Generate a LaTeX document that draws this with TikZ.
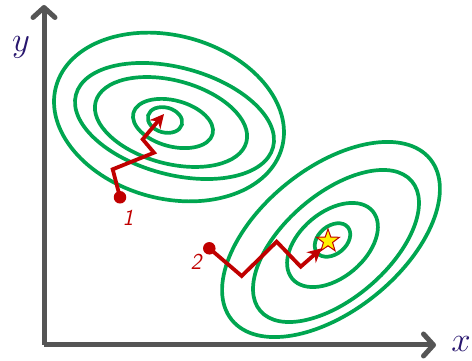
\documentclass[tikz,border=0pt]{standalone}
\usetikzlibrary{arrows.meta,shapes.geometric}
\definecolor{contour}{RGB}{0,166,80}
\definecolor{pathred}{RGB}{192,0,0}
\definecolor{axisgray}{RGB}{85,85,85}
\definecolor{labelblue}{RGB}{40,22,110}
\begin{document}
\begin{tikzpicture}[x=1pt,y=1pt,
  contourline/.style={draw=contour,line width=3.7pt},
  axisline/.style={draw=axisgray,line width=5pt,line join=miter},
  descent/.style={draw=pathred,line width=3.8pt,line join=miter,
     -{Stealth[length=14pt,width=14pt,inset=4.5pt]}},
  startdot/.style={circle,fill=pathred,minimum size=12.5pt,inner sep=0pt},
  runlabel/.style={text=pathred,font=\huge\sffamily\itshape,scale=1.1},
  axislabel/.style={text=labelblue,font=\Huge,scale=1.4},
  goal/.style={star,star points=5,star point ratio=2.5,minimum size=24pt,inner sep=0pt,
     fill=yellow,draw=pathred,line width=1pt}
]
\useasboundingbox (0,0) rectangle (472,361);
% axes
\coordinate (origin) at (44,16);
\coordinate (ytip) at (44,356);
\coordinate (xtip) at (436,16);
\draw[axisline,-{Straight Barb[length=10pt,width=22pt,line cap=round,line join=round]}] (origin) -- (ytip);
\draw[axisline,-{Straight Barb[length=10pt,width=22pt,line cap=round,line join=round]}] (origin) -- (xtip);
\node[axislabel] (ylab) at (21,314) {$y$};
\node[axislabel] (xlab) at (461,17) {$x$};
% top contours
\draw[contourline,rotate around={-15:(169,244)}] (169,244) ellipse [x radius=117,y radius=81.5];
\draw[contourline,rotate around={-15:(174.5,240)}] (174.5,240) ellipse [x radius=102,y radius=53.5];
\draw[contourline,rotate around={-15:(171,239)}] (171,239) ellipse [x radius=78,y radius=41.6];
\draw[contourline,rotate around={-15:(173,237.5)}] (173,237.5) ellipse [x radius=41,y radius=23];
\draw[contourline,rotate around={-15:(165,241)}] (165,241) ellipse [x radius=17.5,y radius=12.5];
% bottom contours
\draw[contourline,rotate around={39:(331,121.5)}] (331,121.5) ellipse [x radius=127.7,y radius=71.2];
\draw[contourline,rotate around={40.6:(336,115)}] (336,115) ellipse [x radius=99.7,y radius=52.2];
\draw[contourline,rotate around={40:(332.5,116)}] (332.5,116) ellipse [x radius=52.5,y radius=32.8];
\draw[contourline,rotate around={40:(332.5,121)}] (332.5,121) ellipse [x radius=20,y radius=14];
% run 1
\node[startdot] (s1) at (120,163.7) {};
\coordinate (a1) at (112.7,191.7);
\coordinate (b1) at (154,208.3);
\coordinate (c1) at (142.7,221.7);
\coordinate (e1) at (164,247);
\draw[descent] (s1.center) -- (a1) -- (b1) -- (c1) -- (e1);
\node[runlabel] (l1) at (128,143) {1};
% run 2
\node[goal] (star) at (328,120) {};
\node[startdot] (s2) at (209.3,112.7) {};
\coordinate (a2) at (241.7,85);
\coordinate (b2) at (276.7,119.3);
\coordinate (c2) at (300.7,94.3);
\coordinate (e2) at (321.7,112.7);
\draw[descent] (s2.center) -- (a2) -- (b2) -- (c2) -- (e2);
\node[runlabel] (l2) at (196,99) {2};
\end{tikzpicture}
\end{document}
